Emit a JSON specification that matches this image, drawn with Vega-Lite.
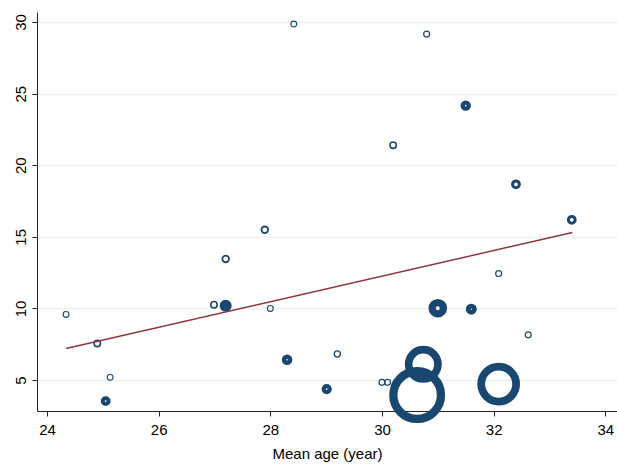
{
  "$schema": "https://vega.github.io/schema/vega-lite/v6.json",
  "autosize": "none",
  "width": 580,
  "height": 399,
  "padding": {"left": 37, "top": 12, "right": 0, "bottom": 54},
  "background": "white",
  "config": {
    "view": {"stroke": null},
    "font": "Liberation Sans",
    "axis": {
      "labelFont": "Liberation Sans",
      "titleFont": "Liberation Sans",
      "labelColor": "#000",
      "titleColor": "#000",
      "domainColor": "#222",
      "tickColor": "#222",
      "labelFontSize": 15,
      "titleFontSize": 15,
      "titleFontWeight": "normal",
      "tickSize": 5
    }
  },
  "datasets": {
    "pts": [
      {"age": 28.42, "val": 29.86, "w": 12},
      {"age": 30.80, "val": 29.16, "w": 13},
      {"age": 31.50, "val": 24.16, "w": 27},
      {"age": 30.20, "val": 21.40, "w": 16},
      {"age": 32.40, "val": 18.67, "w": 22},
      {"age": 33.40, "val": 16.19, "w": 22},
      {"age": 27.90, "val": 15.49, "w": 18},
      {"age": 27.20, "val": 13.46, "w": 18},
      {"age": 32.09, "val": 12.44, "w": 13},
      {"age": 24.34, "val": 9.58, "w": 12},
      {"age": 26.99, "val": 10.26, "w": 16},
      {"age": 27.20, "val": 10.19, "w": 36},
      {"age": 28.00, "val": 10.00, "w": 12},
      {"age": 31.00, "val": 10.02, "w": 86},
      {"age": 31.60, "val": 9.95, "w": 30},
      {"age": 24.90, "val": 7.56, "w": 16},
      {"age": 32.62, "val": 8.16, "w": 13},
      {"age": 29.20, "val": 6.82, "w": 14},
      {"age": 28.30, "val": 6.42, "w": 28},
      {"age": 25.13, "val": 5.19, "w": 12},
      {"age": 30.74, "val": 6.10, "w": 324},
      {"age": 30.00, "val": 4.84, "w": 13},
      {"age": 30.10, "val": 4.84, "w": 13},
      {"age": 29.01, "val": 4.37, "w": 26},
      {"age": 30.63, "val": 3.95, "w": 784},
      {"age": 32.09, "val": 4.72, "w": 441},
      {"age": 25.05, "val": 3.53, "w": 24}
    ],
    "fit": [
      {"age": 24.34, "val": 7.21},
      {"age": 33.41, "val": 15.30}
    ]
  },
  "layer": [
    {
      "data": {"name": "pts"},
      "mark": {"type": "point", "shape": "circle", "filled": false, "stroke": "#1a476f", "opacity": 1},
      "encoding": {
        "x": {
          "field": "age", "type": "quantitative",
          "scale": {"domain": [23.82, 34.21], "nice": false, "zero": false},
          "axis": {"values": [24, 26, 28, 30, 32, 34], "format": "d", "grid": false, "title": "Mean age (year)", "labelPadding": 6, "titlePadding": 9}
        },
        "y": {
          "field": "val", "type": "quantitative",
          "scale": {"domain": [2.84, 30.7], "nice": false, "zero": false},
          "axis": {"values": [5, 10, 15, 20, 25, 30], "format": "d", "grid": true, "gridColor": "#eaf2f3", "gridWidth": 1.5, "title": null, "labelAngle": -90, "labelPadding": 4}
        },
        "size": {
          "field": "w", "type": "quantitative", "legend": null,
          "scale": {"type": "linear", "zero": false, "domain": [12, 20, 22, 24, 30, 36, 86, 784], "range": [34, 48, 46, 34, 38, 36, 127, 2275], "clamp": true}
        },
        "strokeWidth": {
          "field": "w", "type": "quantitative", "legend": null,
          "scale": {"type": "linear", "zero": false, "domain": [12, 20, 22, 24, 30, 36, 86, 784], "range": [1.1, 2.0, 3.0, 4.0, 4.8, 6.0, 7.3, 8.3], "clamp": true}
        }
      }
    },
    {
      "data": {"name": "fit"},
      "mark": {"type": "line", "color": "#90353b", "strokeWidth": 1.5},
      "encoding": {
        "x": {"field": "age", "type": "quantitative"},
        "y": {"field": "val", "type": "quantitative"}
      }
    }
  ]
}
